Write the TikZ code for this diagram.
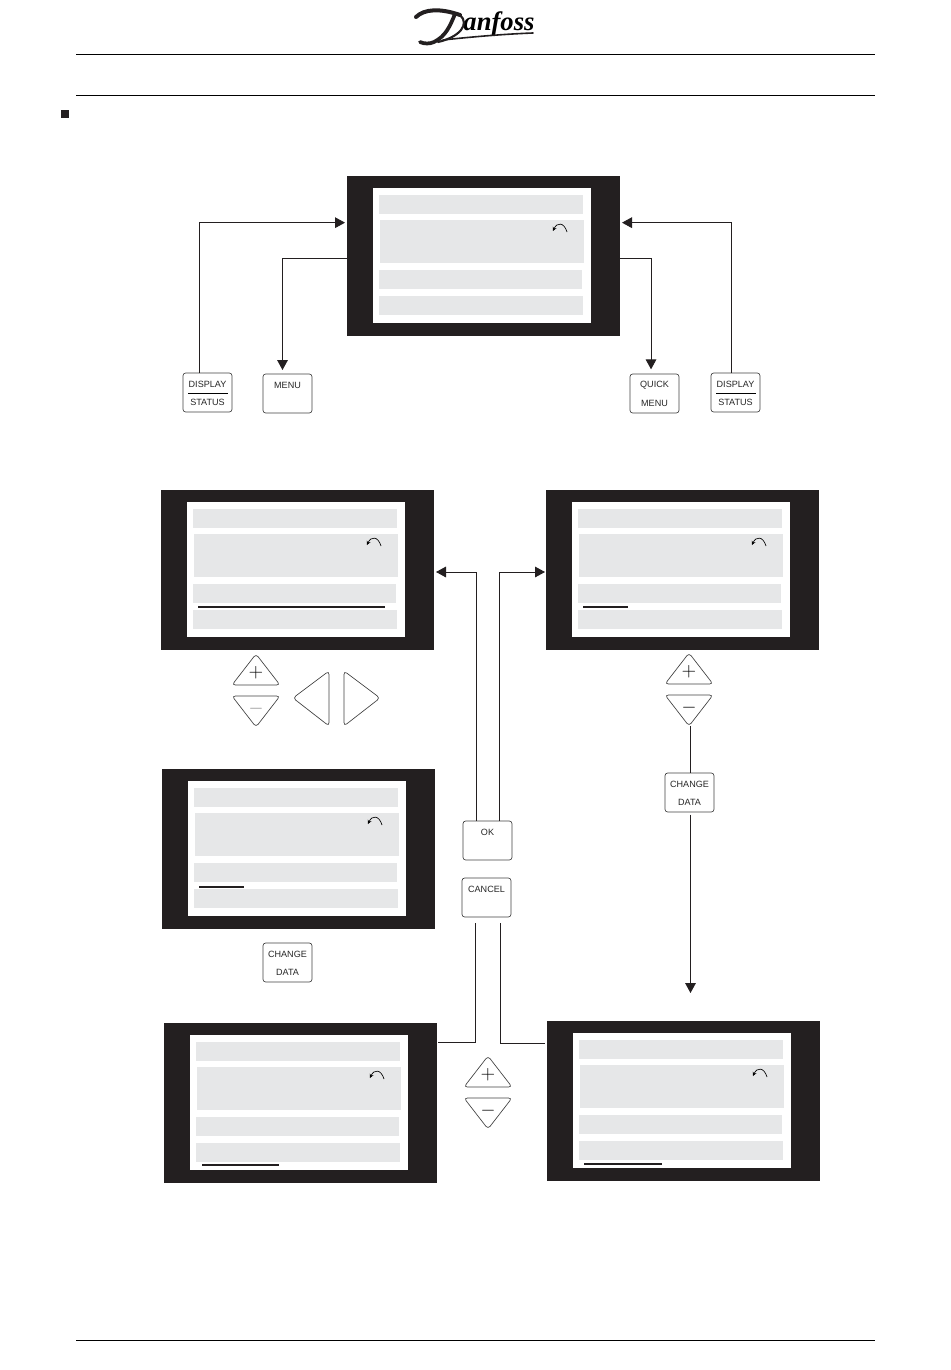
\documentclass[tikz,border=0pt]{standalone}
\usepackage{fontspec}
\setmainfont{Liberation Sans}
\newfontfamily\logofont{Liberation Serif}
\usetikzlibrary{arrows.meta, calc}

\definecolor{framecol}{HTML}{231F20}
\definecolor{barcol}{HTML}{E6E7E8}

\tikzset{
  lcdframe/.style = {fill = framecol, minimum width = 204.75pt, minimum height = 120pt, inner sep = 0pt, outer sep = 0pt, anchor = north west},
  bar/.style = {fill = barcol},
  keybox/.style = {draw = black!75, line width = 0.5pt, rounded corners = 2pt, minimum width = 36.75pt, minimum height = 29.25pt, inner sep = 0pt, outer sep = 0pt, anchor = north west},
  keytext/.style = {font = \fontsize{6.8}{7}\selectfont, inner sep = 0pt, text = black!85},
  keyline/.style = {draw = black!75, line width = 0.5pt, rounded corners = 2.5pt},
  link/.style = {line width = 0.7pt, draw = framecol},
  tip/.style = {link, -{Triangle[length = 7.5pt, width = 8pt]}},
  rule/.style = {line width = 0.5pt, draw = black},
  swash/.style = {line cap = round, draw = framecol}
}

% name, x, y, underline start, underline end, underline y
\newcommand{\lcd}[6]{
  \node[lcdframe] (#1) at (#2,#3) {};
  \begin{scope}[shift = {(#2,#3)}]
    \fill[white] (26,12) rectangle (244,147);
    \fill[bar] (32,19) rectangle (236,38);
    \fill[bar] (33,44) rectangle (237,87);
    \fill[bar] (32,94) rectangle (235,113);
    \fill[bar] (32,120) rectangle (236,139);
    \draw[line width = 0.5pt, -{Stealth[length = 3pt, width = 3pt]}] (220,56) .. controls (217,46) and (210,46) .. (206,55);
    \draw[line width = 1.5pt, framecol] (#4,#6) -- (#5,#6);
  \end{scope}
}
% name, x, y, upper text, lower text
\newcommand{\keycap}[5]{
  \node[keybox] (#1) at (#2,#3) {};
  \node[keytext, yshift = -8.5pt] (#1top) at (#1.north) {#4};
  \node[keytext, yshift = -22pt] (#1low) at (#1.north) {#5};
}
% name, x, y, colour of the minus
\newcommand{\updown}[4]{
  \begin{scope}[shift = {(#2,#3)}]
    \draw[keyline] (24,0) -- (48,31) -- (0,31) -- cycle;
    \draw[keyline] (0,42) -- (48,42) -- (24,73) -- cycle;
    \node[inner sep = 0pt, font = \fontsize{14.4}{15}\selectfont] (plus#1) at (24,18.5) {$+$};
    \node[inner sep = 0pt, font = \fontsize{14.4}{15}\selectfont, text = #4] (minus#1) at (24,54.5) {$-$};
    \coordinate (end#1) at (25,73);
  \end{scope}
}

\begin{document}
\begin{tikzpicture}[x = 0.75pt, y = -0.75pt]
\useasboundingbox (0,0) rectangle (950,1370);

% page furniture
\node[inner sep = 0pt, anchor = base, font = \logofont\bfseries\itshape\fontsize{20}{20}\selectfont] (logo) at (499,31) {anfoss};
\draw[swash, line width = 3pt] (416,17) .. controls (424,9) and (440,8) .. (460,15);
\draw[swash, line width = 2.8pt] (455,14) .. controls (450,26) and (446,36) .. (434,42) .. controls (430,44) and (424,44) .. (420,42);
\draw[swash, line width = 1.6pt] (460,15) .. controls (470,24) and (460,37) .. (438,42);
\draw[swash, line width = 1.2pt] (443,40) .. controls (470,37) and (505,34) .. (533,33);
\draw[rule] (76,54.5) -- (875,54.5);
\draw[rule] (76,95.5) -- (875,95.5);
\draw[rule] (76,1340) -- (875,1340);
\fill[framecol] (61,110) rectangle (69,118);

% displays
\lcd{lcdA}{347}{176}{0}{0}{0}
\lcd{lcdB}{161}{490}{37}{224}{117}
\lcd{lcdC}{546}{490}{37}{82}{117}
\lcd{lcdD}{162}{769}{37}{82}{118}
\lcd{lcdE}{164}{1023}{38}{115}{142}
\lcd{lcdF}{547}{1021}{37}{115}{143}

% keys
\keycap{dispL}{183}{373}{DISPLAY}{STATUS}
\draw[rule] (188,393) -- (228,393);
\keycap{menu}{263}{374}{MENU\hspace{1.5pt}}{}
\keycap{quick}{630}{374}{QUICK}{MENU}
\keycap{dispR}{711}{373}{DISPLAY}{STATUS}
\draw[rule] (716,393) -- (756,393);
\keycap{changeC}{665}{773}{CHANGE}{DATA}
\keycap{changeD}{263}{943}{CHANGE}{DATA}
\keycap{okkey}{463}{821}{OK\hspace{3pt}}{}
\keycap{cancel}{462}{878}{CANCEL}{}

\updown{B}{232}{654}{black!45}
\updown{C}{665}{653}{black}
\updown{E}{464}{1056}{black}
\draw[keyline] (293,698) -- (329,671) -- (329,726) -- cycle;
\draw[keyline] (380,698) -- (344,671) -- (344,726) -- cycle;

% connectors
\coordinate (dataend) at (690.5,993);
\draw[tip] ([xshift = -6pt]dispL.north) |- ([xshift = -1.5pt, yshift = 25pt]lcdA.west);
\draw[tip] ([yshift = -1.5pt]lcdA.west) -| ([xshift = -3.75pt, yshift = 3pt]menu.north);
\draw[tip] ([yshift = -1.5pt]lcdA.east) -| ([xshift = -2.6pt, yshift = 3.5pt]quick.north);
\draw[tip] ([xshift = -3.4pt]dispR.north) |- ([xshift = 1.5pt, yshift = 25pt]lcdA.east);
\draw[tip] ([xshift = -8.6pt]okkey.north) |- ([xshift = 1.5pt, yshift = -1.5pt]lcdB.east);
\draw[tip] ([xshift = 9pt]okkey.north) |- ([xshift = -0.75pt, yshift = -1.5pt]lcdC.west);
\draw[link] ([xshift = -8pt, yshift = -4.5pt]cancel.south) |- ([xshift = 0.75pt, yshift = 45.75pt]lcdE.east);
\draw[link] ([xshift = 10.3pt, yshift = -4.5pt]cancel.south) |- ([xshift = -1.5pt, yshift = 43.5pt]lcdF.west);
\draw[link] (endC) -- (endC |- changeC.north);
\draw[tip] ([xshift = 0.75pt, yshift = -2pt]changeC.south) -- (dataend);
\end{tikzpicture}
\end{document}
